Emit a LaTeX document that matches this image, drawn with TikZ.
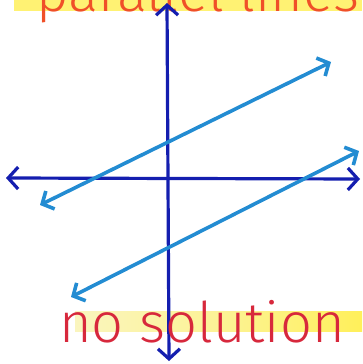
\documentclass[tikz,border=0pt]{standalone}
\usepackage{fontspec}
\setmainfont{Fira Sans Light}
\usetikzlibrary{arrows.meta}
\definecolor{axisblue}{RGB}{20,30,175}
\definecolor{lineblue}{RGB}{35,140,210}
\definecolor{hlyellow}{RGB}{255,240,90}
\definecolor{hlpale}{RGB}{250,245,190}
\definecolor{penred}{RGB}{215,40,60}
\definecolor{penorange}{RGB}{240,80,40}
\tikzset{
  axis/.style={draw=axisblue, line width=3.2pt, line cap=round, {Straight Barb[length=10pt,width=22pt]}-{Straight Barb[length=10pt,width=22pt]}},
  pline/.style={draw=lineblue, line width=3.6pt, line cap=round, {Straight Barb[length=9pt,width=20pt]}-{Straight Barb[length=9pt,width=20pt]}},
  hl/.style={fill=hlyellow, draw=none, opacity=0.85},
  caption/.style={inner sep=0pt, anchor=base, font=\fontsize{56}{60}\selectfont}
}
\begin{document}
\begin{tikzpicture}[x=1pt,y=-1pt]
\useasboundingbox (0,0) rectangle (362,364);
\clip (0,0) rectangle (362,364);
% highlights
\fill[hl] (14,-5) rectangle (362,11);
\shade[left color=hlpale, right color=hlyellow, middle color=hlpale!60!hlyellow] (75,311) rectangle (362,331);
% title (cut off at top, as in the reference)
\node[caption, text=penorange] (title) at (198,12) {parallel lines};
% axes
\coordinate (xl) at (6,178);
\coordinate (xr) at (360,179);
\coordinate (yt) at (167,3);
\coordinate (yb) at (169,361);
\draw[axis] (xl) -- (xr);
\draw[axis] (yt) -- (yb);
% parallel lines
\coordinate (a1) at (40,205);
\coordinate (a2) at (331,62);
\coordinate (b1) at (71,297);
\coordinate (b2) at (359,151);
\draw[pline] (a1) -- (a2);
\draw[pline] (b1) -- (b2);
% caption
\node[caption, text=penred] (sol) at (202,342) {no solution};
\end{tikzpicture}
\end{document}
